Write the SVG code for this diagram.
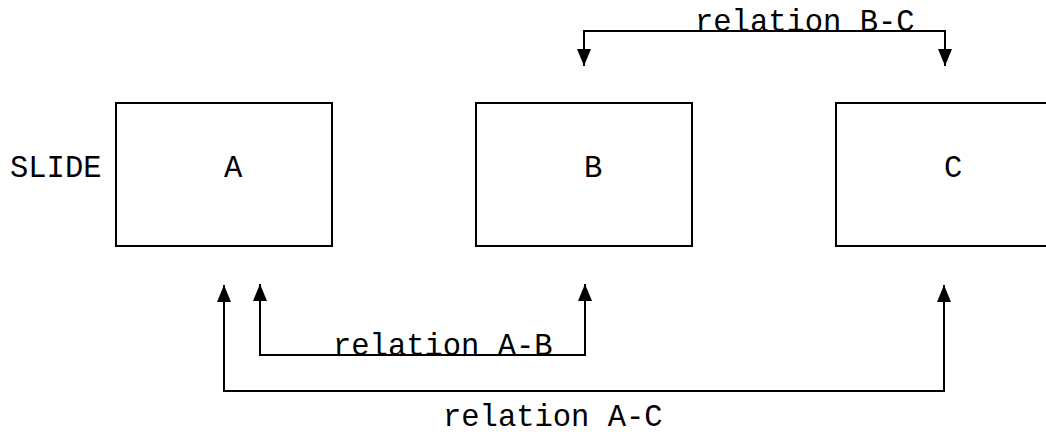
<svg xmlns="http://www.w3.org/2000/svg" width="1046" height="432" viewBox="0 0 1046 432">
<style>
.box{fill:#fff;stroke:#000;stroke-width:2}
.t{font-family:"Liberation Mono","Courier New",monospace;font-size:30.5px;fill:#000}
.c{fill:none;stroke:#000;stroke-width:2}
</style>
<defs>
<marker id="ah" viewBox="0 0 17 14" refX="17" refY="7" markerWidth="17" markerHeight="14" markerUnits="userSpaceOnUse" orient="auto">
<path d="M0,0 L17,7 L0,14 Z" fill="#000"/>
</marker>
</defs>
<rect width="1046" height="432" fill="#fff"/>
<text class="t" x="10" y="177">SLIDE</text>
<g id="A"><rect class="box" x="116" y="103" width="216" height="143"/><text class="t" x="224" y="177">A</text></g>
<g id="B"><rect class="box" x="476" y="103" width="216" height="143"/><text class="t" x="584" y="177">B</text></g>
<g id="C"><rect class="box" x="836" y="103" width="216" height="143"/><text class="t" x="944" y="177">C</text></g>
<g id="connectors">
<path class="c" d="M584,66 L584,31 L945,31 L945,66" marker-end="url(#ah)"/>
<path class="c" d="M945,31 L584,31 L584,66" marker-end="url(#ah)"/>
<text class="t" x="695" y="31">relation B-C</text>
<path class="c" d="M260,284 L260,355 L585,355 L585,284" marker-end="url(#ah)"/>
<path class="c" d="M585,355 L260,355 L260,284" marker-end="url(#ah)"/>
<text class="t" x="333" y="355">relation A-B</text>
<path class="c" d="M224,285 L224,391 L944,391 L944,285" marker-end="url(#ah)"/>
<path class="c" d="M944,391 L224,391 L224,285" marker-end="url(#ah)"/>
<text class="t" x="443" y="426">relation A-C</text>
</g>
</svg>
